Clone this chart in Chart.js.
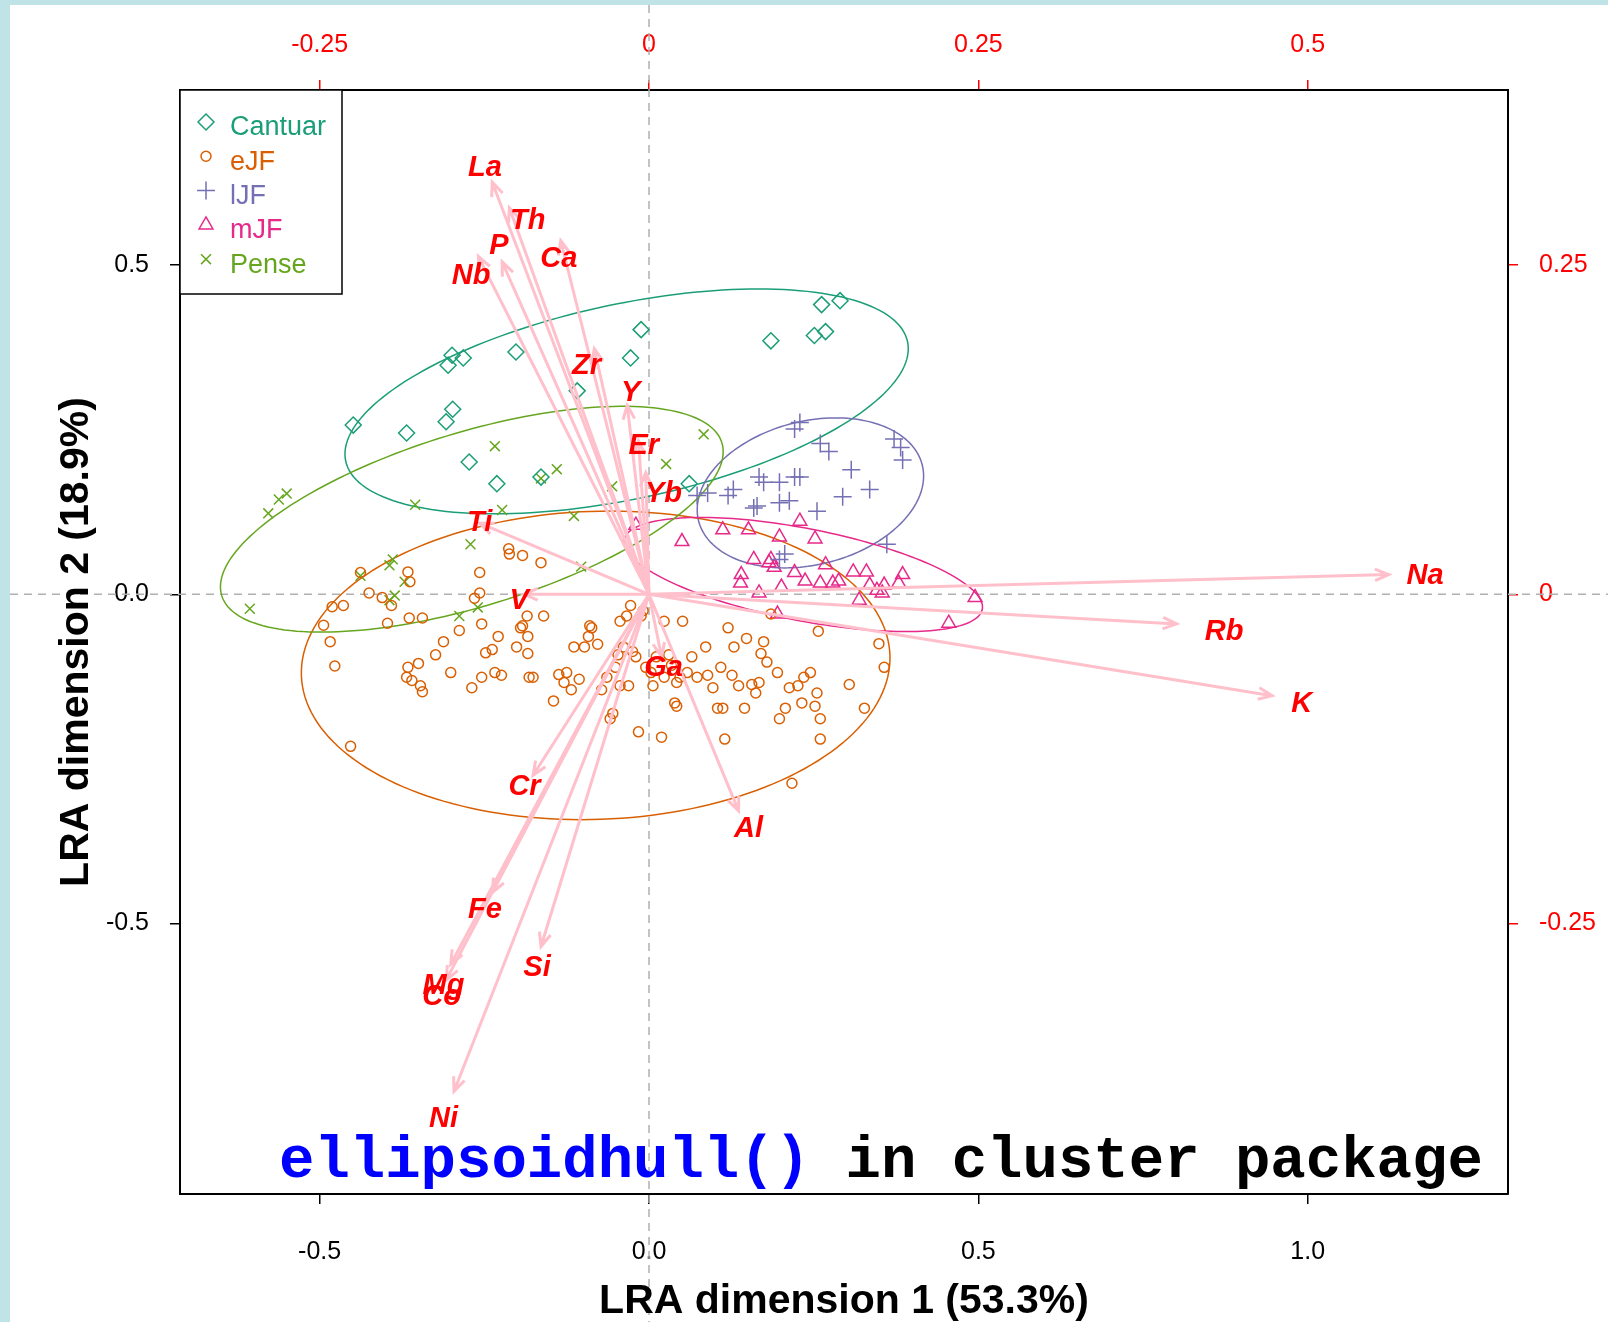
<!DOCTYPE html>
<html>
<head>
<meta charset="utf-8">
<script src="https://cdn.jsdelivr.net/npm/chart.js@4.4.1/dist/chart.umd.min.js"></script>
<style>
  body { margin: 0; background: #bfe3e6; }
  #wrap { position: absolute; left: 10px; top: 5px; width: 1598px; height: 1317px; background: #fff; }
</style>
</head>
<body>
<div id="wrap"><canvas id="c"></canvas></div>
<script>
// group names and colours
const groups = ["Cantuar", "eJF", "lJF", "mJF", "Pense"];
const colors = ["#1b9e77", "#d95f02", "#7570b3", "#e7298a", "#66a61e"];
const styles = ["rectRot", "circle", "cross", "triangle", "crossRot"];
const radii = [8, 5, 9, 8, 7];

// sample coordinates [dim1, dim2]
const cantuar = [[-0.449,0.257],[-0.368,0.245],[-0.308,0.262],[-0.298,0.281],[-0.299,0.363],[-0.305,0.348],
  [-0.282,0.359],[-0.273,0.201],[-0.231,0.168],[-0.202,0.368],[-0.164,0.178],[-0.109,0.309],[-0.028,0.359],
  [-0.012,0.402],[0.061,0.168],[0.185,0.385],[0.251,0.393],[0.262,0.440],[0.268,0.399],[0.290,0.446]];
const ejf = [[-0.494,-0.047],[-0.484,-0.072],[-0.477,-0.109],[-0.481,-0.019],[-0.464,-0.017],[-0.453,-0.231],
  [-0.438,0.033],[-0.425,0.002],[-0.405,-0.005],[-0.397,-0.044],[-0.391,-0.017],[-0.366,0.034],[-0.363,0.019],
  [-0.364,-0.036],[-0.368,-0.126],[-0.366,-0.111],[-0.360,-0.131],[-0.347,-0.139],[-0.344,-0.148],[-0.350,-0.105],
  [-0.344,-0.036],[-0.324,-0.092],[-0.312,-0.072],[-0.301,-0.119],[-0.288,-0.055],[-0.265,-0.006],[-0.257,0.002],
  [-0.257,0.033],[-0.254,-0.045],[-0.248,-0.089],[-0.238,-0.084],[-0.234,-0.119],[-0.229,-0.064],[-0.224,-0.123],
  [-0.213,0.069],[-0.212,0.061],[-0.192,0.059],[-0.195,-0.051],[-0.201,-0.080],[-0.192,-0.048],[-0.184,-0.064],
  [-0.184,-0.090],[-0.182,-0.126],[-0.185,-0.033],[-0.164,0.048],[-0.160,-0.033],[-0.145,-0.162],[-0.137,-0.122],
  [-0.129,-0.134],[-0.125,-0.119],[-0.118,-0.145],[-0.106,-0.129],[-0.098,-0.080],[-0.092,-0.064],[-0.087,-0.051],
  [-0.078,-0.076],[-0.072,-0.145],[-0.064,-0.126],[-0.059,-0.189],[-0.055,-0.181],[-0.051,-0.111],[-0.047,-0.092],
  [-0.044,-0.041],[-0.039,-0.080],[-0.034,-0.033],[-0.031,-0.139],[-0.028,-0.017],[-0.025,-0.087],[-0.020,-0.095],
  [-0.016,-0.209],[-0.012,-0.033],[-0.009,-0.025],[-0.005,-0.111],[0.003,-0.119],[0.006,-0.139],[0.011,-0.095],
  [0.019,-0.217],[0.023,-0.041],[0.030,-0.092],[0.034,-0.108],[0.039,-0.165],[0.042,-0.134],[0.047,-0.126],
  [0.051,-0.041],[0.058,-0.119],[0.065,-0.095],[0.073,-0.126],[0.086,-0.080],[0.089,-0.123],[0.097,-0.142],
  [0.104,-0.173],[0.109,-0.111],[0.112,-0.173],[0.115,-0.220],[0.120,-0.051],[0.126,-0.123],[0.129,-0.080],
  [0.136,-0.139],[0.145,-0.173],[0.148,-0.067],[0.156,-0.137],[0.162,-0.150],[0.167,-0.134],[0.170,-0.090],
  [0.174,-0.072],[0.179,-0.103],[0.185,-0.030],[0.195,-0.119],[0.198,-0.189],[0.207,-0.173],[0.213,-0.142],
  [0.217,-0.287],[0.226,-0.139],[0.232,-0.165],[0.235,-0.126],[0.245,-0.119],[0.252,-0.170],[0.255,-0.150],
  [0.260,-0.189],[0.260,-0.220],[0.257,-0.056],[0.304,-0.137],[0.327,-0.173],[0.349,-0.075],[0.357,-0.111],
  [0.023,-0.126],[0.042,-0.170],[-0.044,-0.139],[-0.090,-0.048],[-0.269,-0.142],[-0.254,-0.126],[-0.114,-0.080],
  [-0.176,-0.126]];
const ljf = [[0.073,0.150],[0.089,0.154],[0.120,0.150],[0.128,0.159],[0.159,0.131],[0.167,0.178],[0.174,0.170],
  [0.164,0.134],[0.198,0.170],[0.213,0.142],[0.221,0.178],[0.229,0.178],[0.198,0.139],[0.255,0.126],[0.221,0.251],
  [0.229,0.261],[0.260,0.229],[0.273,0.217],[0.307,0.189],[0.294,0.148],[0.335,0.159],[0.372,0.236],[0.382,0.223],
  [0.385,0.204],[0.361,0.076],[0.198,0.053],[0.206,0.061]];
const mjf = [[-0.020,0.105],[0.050,0.080],[0.112,0.098],[0.151,0.098],[0.198,0.087],[0.159,0.053],[0.182,0.048],
  [0.190,0.041],[0.185,0.053],[0.140,0.030],[0.139,0.017],[0.167,0.002],[0.201,0.011],[0.221,0.033],[0.237,0.020],
  [0.252,0.084],[0.268,0.045],[0.260,0.017],[0.279,0.017],[0.310,0.034],[0.319,-0.009],[0.330,0.034],[0.335,0.014],
  [0.346,0.006],[0.357,0.014],[0.385,0.030],[0.379,0.017],[0.455,-0.044],[0.495,-0.005],[0.195,-0.030],
  [0.229,0.111],[0.288,0.020],[0.354,0.002]];
const pense = [[-0.606,-0.022],[-0.578,0.123],[-0.550,0.153],[-0.562,0.144],[-0.438,0.028],[-0.394,0.044],
  [-0.389,0.053],[-0.371,0.019],[-0.386,-0.002],[-0.394,-0.009],[-0.355,0.136],[-0.288,-0.033],[-0.260,-0.020],
  [-0.271,0.076],[-0.234,0.225],[-0.223,0.128],[-0.140,0.190],[-0.164,0.176],[-0.114,0.119],[-0.103,0.042],
  [-0.056,0.164],[0.026,0.198],[0.083,0.243]];
const groupData = [cantuar, ejf, ljf, mjf, pense];

// ellipsoid hulls: centre x, centre y, semi-axis a, semi-axis b, angle (deg)
const hullCx = [-0.034, -0.081, 0.245, 0.234, -0.269];
const hullCy = [0.293, -0.108, 0.154, 0.030, 0.114];
const hullA = [0.436, 0.447, 0.175, 0.277, 0.397];
const hullB = [0.148, 0.234, 0.109, 0.070, 0.132];
const hullAng = [12, 2, 14, -11, 17];

// variable arrows (scaled to the plot)
const vars = ["La","Th","P","Ca","Nb","Zr","Y","Er","Yb","Ti","V","Na","Rb","K","Ga","Al","Cr","Fe","Si","Mg","Co","Ni"];
const arrowX = [-0.238,-0.212,-0.223,-0.134,-0.259,-0.083,-0.033,-0.016,-0.005,-0.257,-0.190,1.123,0.801,0.946,0.019,0.136,-0.176,-0.238,-0.164,-0.301,-0.308,-0.296];
const arrowY = [0.626,0.587,0.505,0.537,0.513,0.373,0.287,0.233,0.185,0.108,0.000,0.030,-0.045,-0.154,-0.095,-0.329,-0.275,-0.453,-0.535,-0.562,-0.586,-0.755];
const labelX = [-0.249,-0.184,-0.228,-0.137,-0.270,-0.095,-0.028,-0.008,0.022,-0.257,-0.197,1.178,0.873,0.991,0.022,0.151,-0.189,-0.249,-0.170,-0.312,-0.315,-0.312];
const labelY = [0.648,0.567,0.529,0.510,0.483,0.346,0.305,0.225,0.153,0.108,-0.010,0.027,-0.058,-0.167,-0.112,-0.357,-0.292,-0.479,-0.568,-0.595,-0.611,-0.797];

// axis ticks
const xTicks = [-0.5, 0, 0.5, 1.0];
const xLabels = ["-0.5", "0.0", "0.5", "1.0"];
const yTicks = [-0.5, 0, 0.5];
const yLabels = ["-0.5", "0.0", "0.5"];
const x2Ticks = [-0.25, 0, 0.25, 0.5];
const x2Labels = ["-0.25", "0", "0.25", "0.5"];
const y2Ticks = [-0.25, 0, 0.25];
const y2Labels = ["-0.25", "0", "0.25"];

const tickFont = { family: "Liberation Sans", size: 25 };

function fixTicks(vals) {
  return s => { s.ticks = vals.map(v => ({ value: v })); };
}
function labelFor(vals, labs) {
  return v => { const i = vals.findIndex(t => Math.abs(t - v) < 1e-9); return i >= 0 ? labs[i] : ""; };
}

const extras = {
  id: "extras",
  beforeDatasetsDraw(chart) {
    const { ctx, scales: { x, y } } = chart;
    ctx.save();
    // dashed zero lines across the whole canvas
    ctx.strokeStyle = "#b0b0b0"; ctx.lineWidth = 1.5; ctx.setLineDash([8, 6]);
    ctx.beginPath();
    ctx.moveTo(x.getPixelForValue(0), 0); ctx.lineTo(x.getPixelForValue(0), chart.height);
    ctx.moveTo(0, y.getPixelForValue(0)); ctx.lineTo(chart.width, y.getPixelForValue(0));
    ctx.stroke();
    ctx.setLineDash([]);
    // hulls
    for (let g = 0; g < groups.length; g++) {
      const t = hullAng[g] * Math.PI / 180;
      ctx.strokeStyle = colors[g]; ctx.lineWidth = 1.5;
      ctx.beginPath();
      for (let k = 0; k <= 180; k++) {
        const p = k / 180 * 2 * Math.PI;
        const dx = hullA[g] * Math.cos(p), dy = hullB[g] * Math.sin(p);
        const vx = hullCx[g] + dx * Math.cos(t) - dy * Math.sin(t);
        const vy = hullCy[g] + dx * Math.sin(t) + dy * Math.cos(t);
        const px = x.getPixelForValue(vx), py = y.getPixelForValue(vy);
        if (k === 0) ctx.moveTo(px, py); else ctx.lineTo(px, py);
      }
      ctx.stroke();
    }
    ctx.restore();
  },
  afterDatasetsDraw(chart) {
    const { ctx, chartArea: a, scales: { x, y } } = chart;
    ctx.save();
    const ox = x.getPixelForValue(0), oy = y.getPixelForValue(0);
    ctx.strokeStyle = "#ffc0cb"; ctx.lineWidth = 3;
    for (let i = 0; i < vars.length; i++) {
      const tx = x.getPixelForValue(arrowX[i]), ty = y.getPixelForValue(arrowY[i]);
      const ang = Math.atan2(ty - oy, tx - ox);
      ctx.beginPath();
      ctx.moveTo(ox, oy); ctx.lineTo(tx, ty);
      ctx.moveTo(tx - 15 * Math.cos(ang - 0.4), ty - 15 * Math.sin(ang - 0.4));
      ctx.lineTo(tx, ty);
      ctx.lineTo(tx - 15 * Math.cos(ang + 0.4), ty - 15 * Math.sin(ang + 0.4));
      ctx.stroke();
    }
    ctx.fillStyle = "#ff0000";
    ctx.font = "italic bold 29px 'Liberation Sans'";
    ctx.textAlign = "center"; ctx.textBaseline = "middle";
    for (let i = 0; i < vars.length; i++) {
      ctx.fillText(vars[i], x.getPixelForValue(labelX[i]), y.getPixelForValue(labelY[i]));
    }
    // legend
    ctx.fillStyle = "#fff"; ctx.strokeStyle = "#000"; ctx.lineWidth = 1.5;
    ctx.fillRect(a.left, a.top, 162, 204); ctx.strokeRect(a.left, a.top, 162, 204);
    ctx.font = "27px 'Liberation Sans'"; ctx.textAlign = "left";
    for (let g = 0; g < groups.length; g++) {
      const ly = a.top + 36 + g * 34.3;
      ctx.strokeStyle = colors[g]; ctx.fillStyle = "rgba(0,0,0,0)"; ctx.lineWidth = 1.5;
      Chart.helpers.drawPoint(ctx, { pointStyle: styles[g], radius: radii[g], borderWidth: 1.5 }, a.left + 26, ly - 4);
      ctx.fillStyle = colors[g];
      ctx.fillText(groups[g], a.left + 50, ly + 2);
    }
    // axis titles
    ctx.fillStyle = "#000"; ctx.font = "bold 41px 'Liberation Sans'"; ctx.textAlign = "center";
    ctx.fillText("LRA dimension 1 (53.3%)", (a.left + a.right) / 2, 1297);
    ctx.save();
    ctx.translate(67, (a.top + a.bottom) / 2); ctx.rotate(-Math.PI / 2);
    ctx.fillText("LRA dimension 2 (18.9%)", 0, 0);
    ctx.restore();
    // caption
    ctx.font = "bold 59px 'Liberation Mono'"; ctx.textAlign = "left";
    const p1 = "ellipsoidhull() ", p2 = "in cluster package";
    ctx.fillStyle = "#0000ff"; ctx.fillText(p1, 269, 1157);
    ctx.fillStyle = "#000"; ctx.fillText(p2, 269 + ctx.measureText(p1).width, 1157);
    ctx.restore();
  }
};

new Chart(document.getElementById("c"), {
  type: "scatter",
  data: {
    datasets: groups.map((g, i) => ({
      label: g,
      data: groupData[i].map(p => ({ x: p[0], y: p[1] })),
      pointStyle: styles[i],
      pointRadius: radii[i],
      borderColor: colors[i],
      backgroundColor: "transparent",
      borderWidth: 1.5
    }))
  },
  options: {
    responsive: true,
    maintainAspectRatio: false,
    animation: false,
    layout: { padding: 0 },
    plugins: { legend: { display: false }, tooltip: { enabled: false } },
    scales: {
      x: {
        position: "bottom", min: -0.712, max: 1.304,
        afterBuildTicks: fixTicks(xTicks),
        afterFit: s => { s.height = 128; },
        grid: { drawOnChartArea: false, tickLength: 10, color: "#000", lineWidth: 1.5 },
        border: { color: "#000", width: 2 },
        ticks: { callback: labelFor(xTicks, xLabels), font: tickFont, color: "#000", padding: 33, maxRotation: 0 }
      },
      x2: {
        position: "top", min: -0.356, max: 0.652,
        afterBuildTicks: fixTicks(x2Ticks),
        afterFit: s => { s.height = 85; },
        grid: { drawOnChartArea: false, tickLength: 10, color: "#ff0000", lineWidth: 1.5 },
        border: { color: "#000", width: 2 },
        ticks: { callback: labelFor(x2Ticks, x2Labels), font: tickFont, color: "#ff0000", padding: 20, maxRotation: 0 }
      },
      y: {
        position: "left", min: -0.911, max: 0.766,
        afterBuildTicks: fixTicks(yTicks),
        afterFit: s => { s.width = 170; },
        grid: { drawOnChartArea: false, tickLength: 10, color: "#000", lineWidth: 1.5 },
        border: { color: "#000", width: 2 },
        ticks: { callback: labelFor(yTicks, yLabels), font: tickFont, color: "#000", padding: 21 }
      },
      y2: {
        position: "right", min: -0.4555, max: 0.383,
        afterBuildTicks: fixTicks(y2Ticks),
        afterFit: s => { s.width = 100; },
        grid: { drawOnChartArea: false, tickLength: 10, color: "#ff0000", lineWidth: 1.5 },
        border: { color: "#000", width: 2 },
        ticks: { callback: labelFor(y2Ticks, y2Labels), font: tickFont, color: "#ff0000", padding: 21 }
      }
    }
  },
  plugins: [extras]
});
</script>
</body>
</html>
